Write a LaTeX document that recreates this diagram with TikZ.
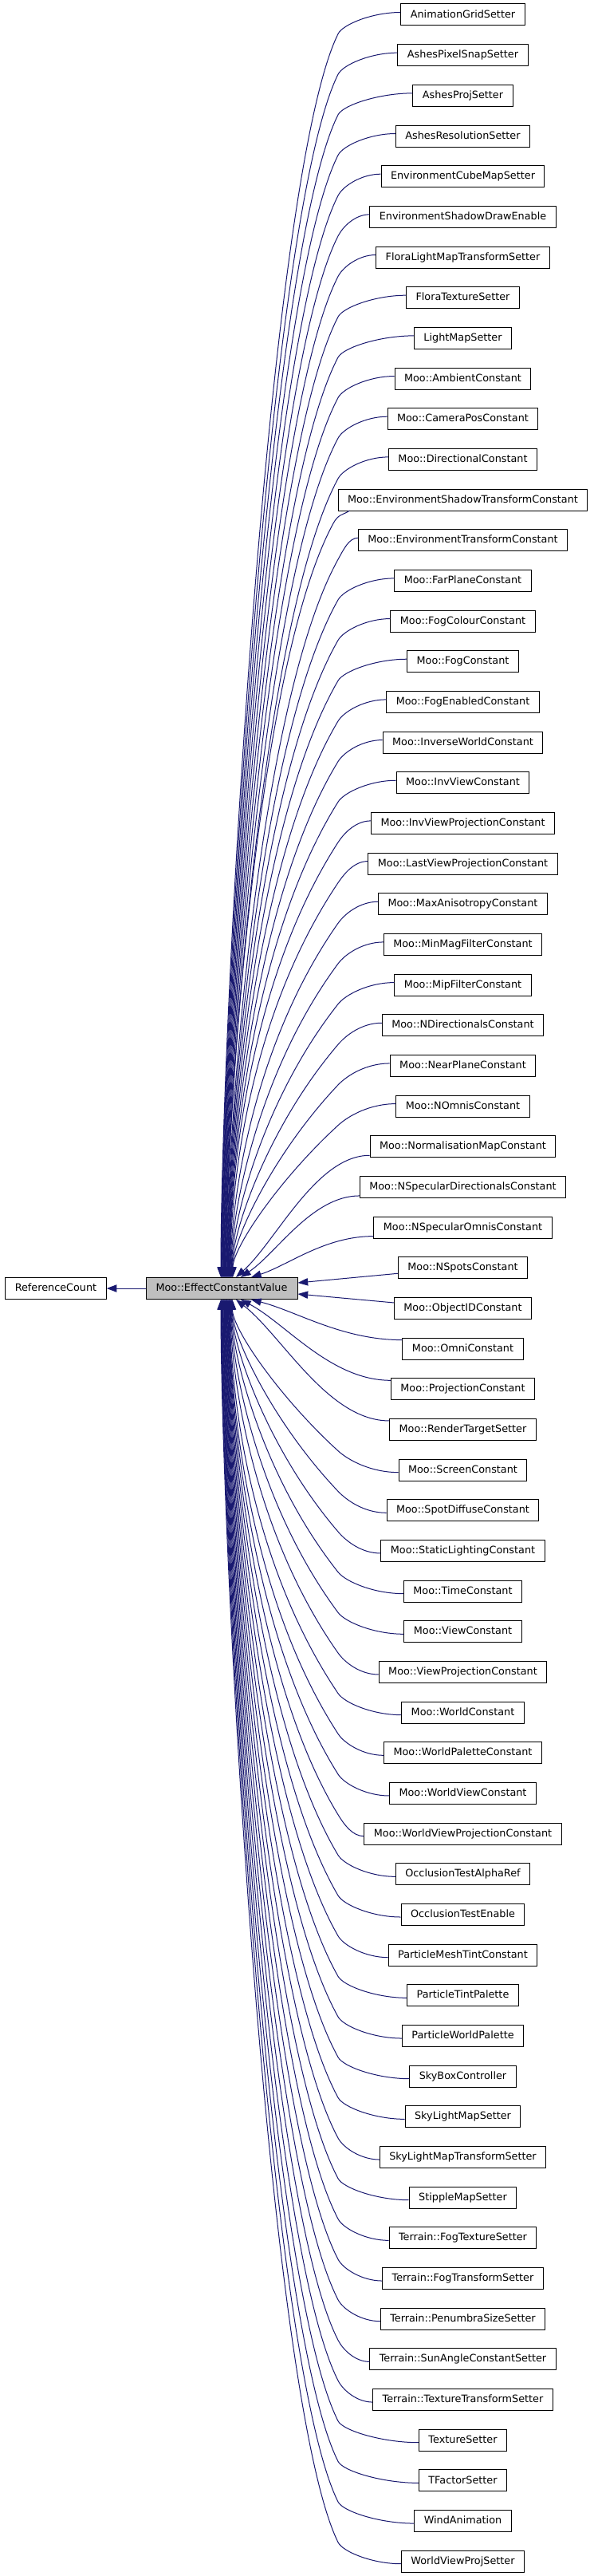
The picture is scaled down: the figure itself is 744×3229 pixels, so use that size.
\documentclass[tikz,border=0pt]{standalone}
\usepackage{fontspec}
\setmainfont{DejaVu Sans}
\usetikzlibrary{arrows.meta,calc}
\definecolor{edgeblue}{RGB}{25,25,112}
\definecolor{ecvgray}{RGB}{191,191,191}
\begin{document}
\begin{tikzpicture}[x=0.75pt,y=-0.75pt,
  box/.style={draw=black,line width=0.75pt,fill=white,font=\fontsize{9.6pt}{11pt}\selectfont,
    inner xsep=9pt,inner ysep=0pt,minimum height=20.25pt,text height=7.3pt,text depth=1.9pt},
  edge/.style={draw=edgeblue,line width=0.75pt,-{Triangle[length=9.5pt,width=7pt]}}]
\fill[white] (0,0) rectangle (744,3229);
\useasboundingbox (0,0) rectangle (744,3229);
\node[box,fill=ecvgray,minimum width=142.5pt] (ecv) at (278,1615) {Moo::EffectConstantValue};
\node[box,minimum width=94.5pt] (rc) at (70,1615) {ReferenceCount};
\draw[edge] (ecv.west) -- (rc.east);
\foreach \idx/\txt in {0/AnimationGridSetter,1/AshesPixelSnapSetter,2/AshesProjSetter,3/AshesResolutionSetter,
  4/EnvironmentCubeMapSetter,5/EnvironmentShadowDrawEnable,6/FloraLightMapTransformSetter,7/FloraTextureSetter,
  8/LightMapSetter,9/Moo::AmbientConstant,10/Moo::CameraPosConstant,11/Moo::DirectionalConstant,
  12/Moo::EnvironmentShadowTransformConstant,13/Moo::EnvironmentTransformConstant,14/Moo::FarPlaneConstant,
  15/Moo::FogColourConstant,16/Moo::FogConstant,17/Moo::FogEnabledConstant,18/Moo::InverseWorldConstant,
  19/Moo::InvViewConstant,20/Moo::InvViewProjectionConstant,21/Moo::LastViewProjectionConstant,
  22/Moo::MaxAnisotropyConstant,23/Moo::MinMagFilterConstant,24/Moo::MipFilterConstant,
  25/Moo::NDirectionalsConstant,26/Moo::NearPlaneConstant,27/Moo::NOmnisConstant,
  28/Moo::NormalisationMapConstant,29/Moo::NSpecularDirectionalsConstant,30/Moo::NSpecularOmnisConstant,
  31/Moo::NSpotsConstant,32/Moo::ObjectIDConstant,33/Moo::OmniConstant,34/Moo::ProjectionConstant,
  35/Moo::RenderTargetSetter,36/Moo::ScreenConstant,37/Moo::SpotDiffuseConstant,38/Moo::StaticLightingConstant,
  39/Moo::TimeConstant,40/Moo::ViewConstant,41/Moo::ViewProjectionConstant,42/Moo::WorldConstant,
  43/Moo::WorldPaletteConstant,44/Moo::WorldViewConstant,45/Moo::WorldViewProjectionConstant,
  46/OcclusionTestAlphaRef,47/OcclusionTestEnable,48/ParticleMeshTintConstant,49/ParticleTintPalette,
  50/ParticleWorldPalette,51/SkyBoxController,52/SkyLightMapSetter,53/SkyLightMapTransformSetter,
  54/StippleMapSetter,55/Terrain::FogTextureSetter,56/Terrain::FogTransformSetter,
  57/Terrain::PenumbraSizeSetter,58/Terrain::SunAngleConstantSetter,59/Terrain::TextureTransformSetter,
  60/TextureSetter,61/TFactorSetter,62/WindAnimation,63/WorldViewProjSetter}
  {\node[box] (c\idx) at (580.5,{18.5+50.67*\idx}) {\txt};}
\foreach \idx in {0,...,63}{%
  \path (c\idx.west); \pgfgetlastxy{\lx}{\ly}%
  \pgfmathsetmacro{\Lx}{\lx/0.75}%
  \pgfmathsetmacro{\yc}{18.5+50.67*\idx}%
  \pgfmathsetmacro{\dd}{(\idx<32) ? 1 : -1}%
  \pgfmathsetmacro{\Ey}{(\idx<32) ? 1602 : 1628}%
  \ifnum\idx<32 \def\anc{north}\else\def\anc{south}\fi
  \pgfmathtruncatemacro{\kind}{(\idx==31) ? 1 : ((\idx==32) ? 2 : (((\idx>27) && (\idx<36)) ? 3 : 4))}%
  \ifcase\kind\or
    \draw[edge] ($(c\idx.west)+(0,7)$) -- ($(ecv.east)+(0,-7)$);
  \or
    \draw[edge] ($(c\idx.west)+(0,-7)$) -- ($(ecv.east)+(0,7)$);
  \or
    \pgfmathsetmacro{\Ex}{((\idx==30) || (\idx==33)) ? 315 : (((\idx==29) || (\idx==34)) ? 302 : 296)}%
    \pgfmathsetmacro{\dy}{11*\dd}%
    \pgfmathsetmacro{\Sy}{\yc+\dy}%
    \pgfmathsetmacro{\Ax}{\Lx-0.4*(\Lx-\Ex)}%
    \pgfmathsetmacro{\Bx}{\Ex+0.3*(\Lx-\Ex)}%
    \pgfmathsetmacro{\By}{\Ey-\dd*0.3*abs(\Ey-\Sy)}%
    \draw[edge] ($(c\idx.west)+(0,\dy)$) .. controls (\Ax,\Sy) and (\Bx,\By) .. ($(ecv.\anc)+(\Ex-278,0)$);
  \or
    \pgfmathsetmacro{\Ex}{(\idx<32) ? 277+15*\idx/27 : 277+15*(63-\idx)/28}%
    \pgfmathsetmacro{\dx}{(\idx==12) ? 15 : 0}%
    \pgfmathsetmacro{\dy}{(\idx==12) ? 13.5 : -3*\dd}%
    \pgfmathsetmacro{\Sx}{\Lx+\dx}%
    \pgfmathsetmacro{\Sy}{\yc+\dy}%
    \pgfmathsetmacro{\Kx}{(\idx==12) ? 418 : 424}%
    \pgfmathsetmacro{\kk}{(\idx==12) ? 16 : 27}%
    \pgfmathsetmacro{\ay}{(\idx==12) ? 6 : 0}%
    \pgfmathsetmacro{\Ky}{\Sy+\kk*\dd}%
    \pgfmathsetmacro{\DD}{abs(\Ey-\Ky)}%
    \pgfmathsetmacro{\slp}{0.4+(\Kx-\Ex)/\DD}%
    \pgfmathsetmacro{\hh}{min(180,0.35*\DD)}%
    \pgfmathsetmacro{\Ax}{\Sx-0.45*(\Sx-\Kx)}%
    \pgfmathsetmacro{\Ay}{\Sy+\ay}%
    \pgfmathsetmacro{\Bx}{\Kx+\slp*12}%
    \pgfmathsetmacro{\By}{\Ky-12*\dd}%
    \pgfmathsetmacro{\Cx}{\Kx-\slp*\hh}%
    \pgfmathsetmacro{\Cy}{\Ky+\dd*\hh}%
    \pgfmathsetmacro{\Dy}{\Ey-\dd*0.2*\DD}%
    \draw[edge] ($(c\idx.west)+(\dx,\dy)$) .. controls (\Ax,\Ay) and (\Bx,\By) .. (\Kx,\Ky)
      .. controls (\Cx,\Cy) and (\Ex,\Dy) .. ($(ecv.\anc)+(\Ex-278,0)$);
  \fi
}
\end{tikzpicture}
\end{document}
